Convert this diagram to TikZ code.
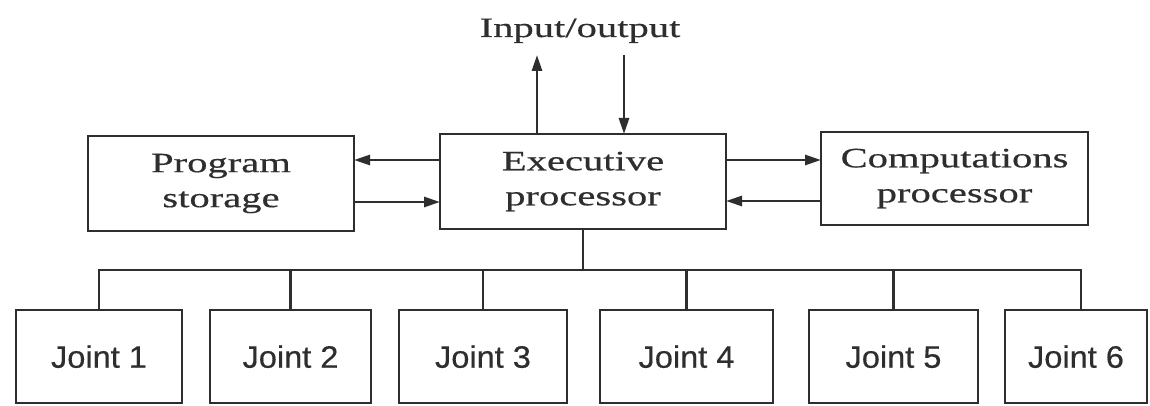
\documentclass[tikz,border=0pt]{standalone}
\usepackage{fontspec}
\usetikzlibrary{arrows.meta}
\newfontfamily\lblfont[FakeStretch=1.45,FakeBold=0.5]{Liberation Serif}
\newfontfamily\jointfont[FakeStretch=1.05,FakeBold=0.4]{Liberation Sans}
\definecolor{ink}{HTML}{2E2E2E}
\tikzset{
  x=1pt, y=-1pt,
  line/.style={draw=ink, line width=2.8pt},
  arr/.style={line, -{Triangle[length=16pt,width=10pt]}},
  unit/.style={line, fill=white, inner sep=0pt, outer sep=0pt, align=center,
    text=ink, font=\lblfont\fontsize{28}{35}\selectfont},
  jointbox/.style={line, fill=white, inner sep=0pt, outer sep=0pt,
    text=ink, font=\jointfont\fontsize{31}{34}\selectfont,
    minimum height=93pt, text depth=0pt},
}
\begin{document}
\begin{tikzpicture}
\useasboundingbox[fill=white] (0,0) rectangle (1150,406);

% upper row of units
\node[unit, minimum width=266pt, minimum height=95pt] (ps)   at (221,183.5) {Program\\storage};
\node[unit, minimum width=286pt, minimum height=95pt] (exec) at (583,181.5) {Executive\\processor};
\node[unit, minimum width=267pt, minimum height=93pt] (comp) at (954.5,178.5) {Computations\\processor};

% input/output label and its two lines
\node[text=ink, font=\lblfont\fontsize{28}{30}\selectfont, anchor=base] (io) at (580,37) {Input/output};
\coordinate (ioUp) at (537,55);
\coordinate (ioDn) at (624,55);
\draw[arr] (exec.north -| ioUp) -- (ioUp);
\draw[arr] (ioDn) -- (exec.north -| ioDn);

% exchanges between the processor and its neighbours
\draw[arr] (exec.west |- 0,160) -- (ps.east |- 0,160);
\draw[arr] (ps.east |- 0,202) -- (exec.west |- 0,202);
\draw[arr] (exec.east |- 0,160) -- (comp.west |- 0,160);
\draw[arr] (comp.west |- 0,201) -- (exec.east |- 0,201);

% joint controllers
\node[jointbox, minimum width=166pt] (j1) at (99,356.5)   {Joint 1};
\node[jointbox, minimum width=161pt] (j2) at (290.5,356.5) {Joint 2};
\node[jointbox, minimum width=168pt] (j3) at (483,356.5)  {Joint 3};
\node[jointbox, minimum width=173pt] (j4) at (686.5,356.5) {Joint 4};
\node[jointbox, minimum width=169pt] (j5) at (893.5,356.5) {Joint 5};
\node[jointbox, minimum width=142pt] (j6) at (1076,356.5) {Joint 6};

% bus from the executive processor to the joints
\coordinate (bus) at (583,270);
\coordinate (j6top) at ([xshift=5pt]j6.north);
\draw[line] (exec.south) -- (bus);
\draw[line, line join=miter] (j1.north) -- (j1.north |- bus) -- (j6top |- bus) -- (j6top);
\foreach \j in {j2,j3,j4,j5}
  \draw[line] (\j.north |- bus) -- (\j.north);
\end{tikzpicture}
\end{document}
